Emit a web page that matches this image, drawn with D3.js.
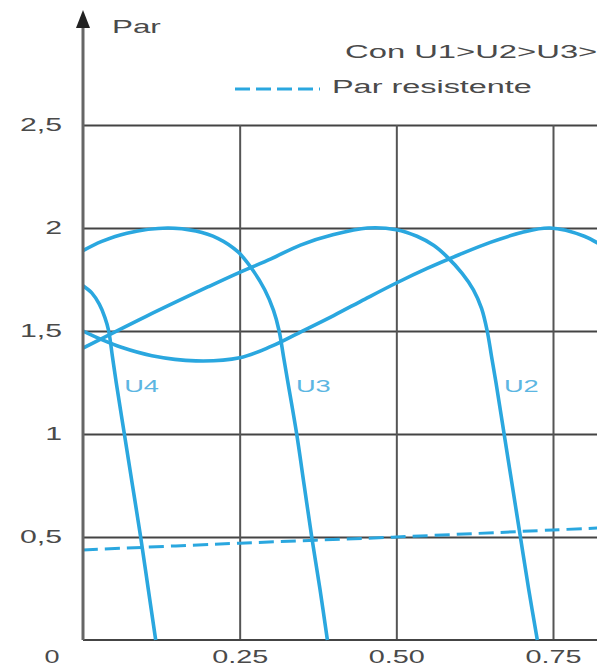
<!DOCTYPE html>
<html>
<head>
<meta charset="utf-8">
<script src="https://cdn.jsdelivr.net/npm/d3@7"></script>
<style>
    html, body { margin: 0; padding: 0; background: #fff; }
    svg { display: block; font-family: "Liberation Sans", Arial, sans-serif; }
</style>
</head>
<body>
<div id="chart"></div>
<script>
// values: slip on x, torque on y
const xTicks = [0.25, 0.50, 0.75];
const xTickLabels = ['0.25', '0.50', '0.75'];
const yTicks = [0.5, 1, 1.5, 2, 2.5];
const yTickLabels = ['0,5', '1', '1,5', '2', '2,5'];

const curveU1 = [[0, 1.5], [0.03, 1.458], [0.06, 1.422], [0.11, 1.38], [0.18, 1.355], [0.25, 1.37],
    [0.3, 1.425], [0.347, 1.495], [0.4, 1.575], [0.45, 1.655], [0.5, 1.733], [0.55, 1.805],
    [0.6, 1.87], [0.65, 1.93], [0.7, 1.978], [0.745, 2.0], [0.8, 1.96], [0.83, 1.91]];
const curveU2 = [[0, 1.417], [0.1, 1.57], [0.2, 1.715], [0.25, 1.785],
    [0.3, 1.85], [0.347, 1.917], [0.4, 1.968], [0.454, 2.0], [0.5, 1.992], [0.533, 1.96],
    [0.56, 1.915], [0.581, 1.86], [0.605, 1.78], [0.623, 1.7], [0.636, 1.61], [0.645, 1.5],
    [0.652, 1.375], [0.659, 1.25], [0.672, 1.0], [0.685, 0.75], [0.698, 0.5],
    [0.711, 0.25], [0.725, 0]];
const curveU3 = [[0, 1.89], [0.03, 1.935], [0.07, 1.975], [0.135, 2.0], [0.18, 1.985],
    [0.215, 1.95], [0.247, 1.885], [0.27, 1.8], [0.29, 1.7], [0.304, 1.6], [0.313, 1.5],
    [0.32, 1.375], [0.327, 1.25], [0.341, 1.0], [0.353, 0.75],
    [0.365, 0.5], [0.378, 0.25], [0.39, 0]];
const curveU4 = [[0, 1.72], [0.014, 1.685], [0.026, 1.63], [0.035, 1.565], [0.041, 1.5],
    [0.047, 1.375], [0.053, 1.25], [0.066, 1.0], [0.079, 0.75], [0.092, 0.5], [0.104, 0.25],
    [0.116, 0]];
const loadTorque = [[0, 0.437], [0.25, 0.47], [0.5, 0.5], [0.75, 0.534], [0.83, 0.545]];

const labelledCurves = [['U4', curveU4], ['U3', curveU3], ['U2', curveU2]];
const labelLevel = 1.25;

const width = 597, height = 667;
const blue = '#2aa7df';
const textColor = '#4a4a4a';

const svg = d3.select('#chart').append('svg')
    .attr('width', width)
    .attr('height', height);

const x = d3.scaleLinear().domain([0, 0.75]).range([83, 553]);
const y = d3.scaleLinear().domain([0, 2.5]).range([640, 125]);

// the source picture is stretched sideways, so text is too
function stretch(sel, k) {
    sel.each(function () {
        const len = this.getComputedTextLength();
        d3.select(this).attr('textLength', len * k).attr('lengthAdjust', 'spacingAndGlyphs');
    });
}

svg.append('defs').append('clipPath').attr('id', 'plot')
    .append('rect')
    .attr('x', x(0)).attr('y', 0)
    .attr('width', width - x(0)).attr('height', y(0) + 2);

// horizontal grid + y labels
const yAxis = svg.append('g')
    .attr('transform', `translate(${x(0)},0)`)
    .call(d3.axisLeft(y)
        .tickValues(yTicks)
        .tickSize(-(width - x(0)))
        .tickPadding(21)
        .tickFormat((d, i) => yTickLabels[i]));
yAxis.select('.domain').remove();
yAxis.selectAll('.tick line').attr('stroke', '#444').attr('stroke-width', 2);
yAxis.selectAll('.tick text')
    .attr('fill', textColor)
    .attr('font-size', 18)
    .attr('font-family', '"Liberation Sans", Arial, sans-serif')
    .call(stretch, 1.68);

// vertical grid + x labels
const xAxis = svg.append('g')
    .attr('transform', `translate(0,${y(0)})`)
    .call(d3.axisBottom(x)
        .tickValues(xTicks)
        .tickSize(-(y(0) - y(2.5)))
        .tickPadding(10)
        .tickFormat((d, i) => xTickLabels[i]));
xAxis.select('.domain').remove();
xAxis.selectAll('.tick line').attr('stroke', '#555').attr('stroke-width', 2);
xAxis.selectAll('.tick text')
    .attr('fill', textColor)
    .attr('font-size', 18)
    .attr('font-family', '"Liberation Sans", Arial, sans-serif')
    .call(stretch, 1.6);

// x base line
svg.append('line')
    .attr('x1', x(0)).attr('x2', width)
    .attr('y1', y(0)).attr('y2', y(0))
    .attr('stroke', '#444').attr('stroke-width', 2);

// origin label
svg.append('text')
    .attr('x', x(0) - 31).attr('y', y(0) + 23)
    .attr('text-anchor', 'middle')
    .attr('fill', textColor)
    .attr('font-size', 18)
    .text('0')
    .call(stretch, 1.5);

const line = d3.line()
    .x(d => x(d[0]))
    .y(d => y(d[1]))
    .curve(d3.curveCatmullRom.alpha(0.5));

const plot = svg.append('g').attr('clip-path', 'url(#plot)');

plot.append('path')
    .datum(loadTorque)
    .attr('d', line)
    .attr('fill', 'none')
    .attr('stroke', blue)
    .attr('stroke-width', 3)
    .attr('stroke-dasharray', '15,7');

plot.selectAll('path.motor')
    .data([curveU1, curveU2, curveU3, curveU4])
    .enter()
    .append('path')
    .attr('class', 'motor')
    .attr('d', line)
    .attr('fill', 'none')
    .attr('stroke', blue)
    .attr('stroke-width', 3.6);

// curve names, just right of where each one passes labelLevel
svg.selectAll('text.ulabel')
    .data(labelledCurves)
    .enter()
    .append('text')
    .attr('class', 'ulabel')
    .attr('x', d => x(d[1].find(p => p[1] === labelLevel)[0]) + 8)
    .attr('y', y(labelLevel) + 9)
    .attr('fill', '#5cb6e2')
    .attr('font-size', 16)
    .text(d => d[0])
    .call(stretch, 1.7);

// y axis with arrow
svg.append('line')
    .attr('x1', x(0)).attr('x2', x(0))
    .attr('y1', y(0)).attr('y2', 26)
    .attr('stroke', '#666').attr('stroke-width', 3);
svg.append('path')
    .attr('d', `M${x(0)},10L${x(0) + 7},28L${x(0) - 7},28Z`)
    .attr('fill', '#222');

svg.append('text')
    .attr('x', 112).attr('y', 33)
    .attr('fill', textColor)
    .attr('font-size', 19)
    .text('Par')
    .call(stretch, 1.65);

// legend
svg.append('text')
    .attr('x', 345).attr('y', 58)
    .attr('fill', textColor)
    .attr('font-size', 18)
    .text('Con U1>U2>U3>U4')
    .call(stretch, 1.82);

svg.append('line')
    .attr('x1', 235).attr('x2', 320)
    .attr('y1', 89).attr('y2', 89)
    .attr('stroke', blue)
    .attr('stroke-width', 3)
    .attr('stroke-dasharray', '15,6');

svg.append('text')
    .attr('x', 332).attr('y', 93)
    .attr('fill', textColor)
    .attr('font-size', 18)
    .text('Par resistente')
    .call(stretch, 1.8);
</script>
</body>
</html>
